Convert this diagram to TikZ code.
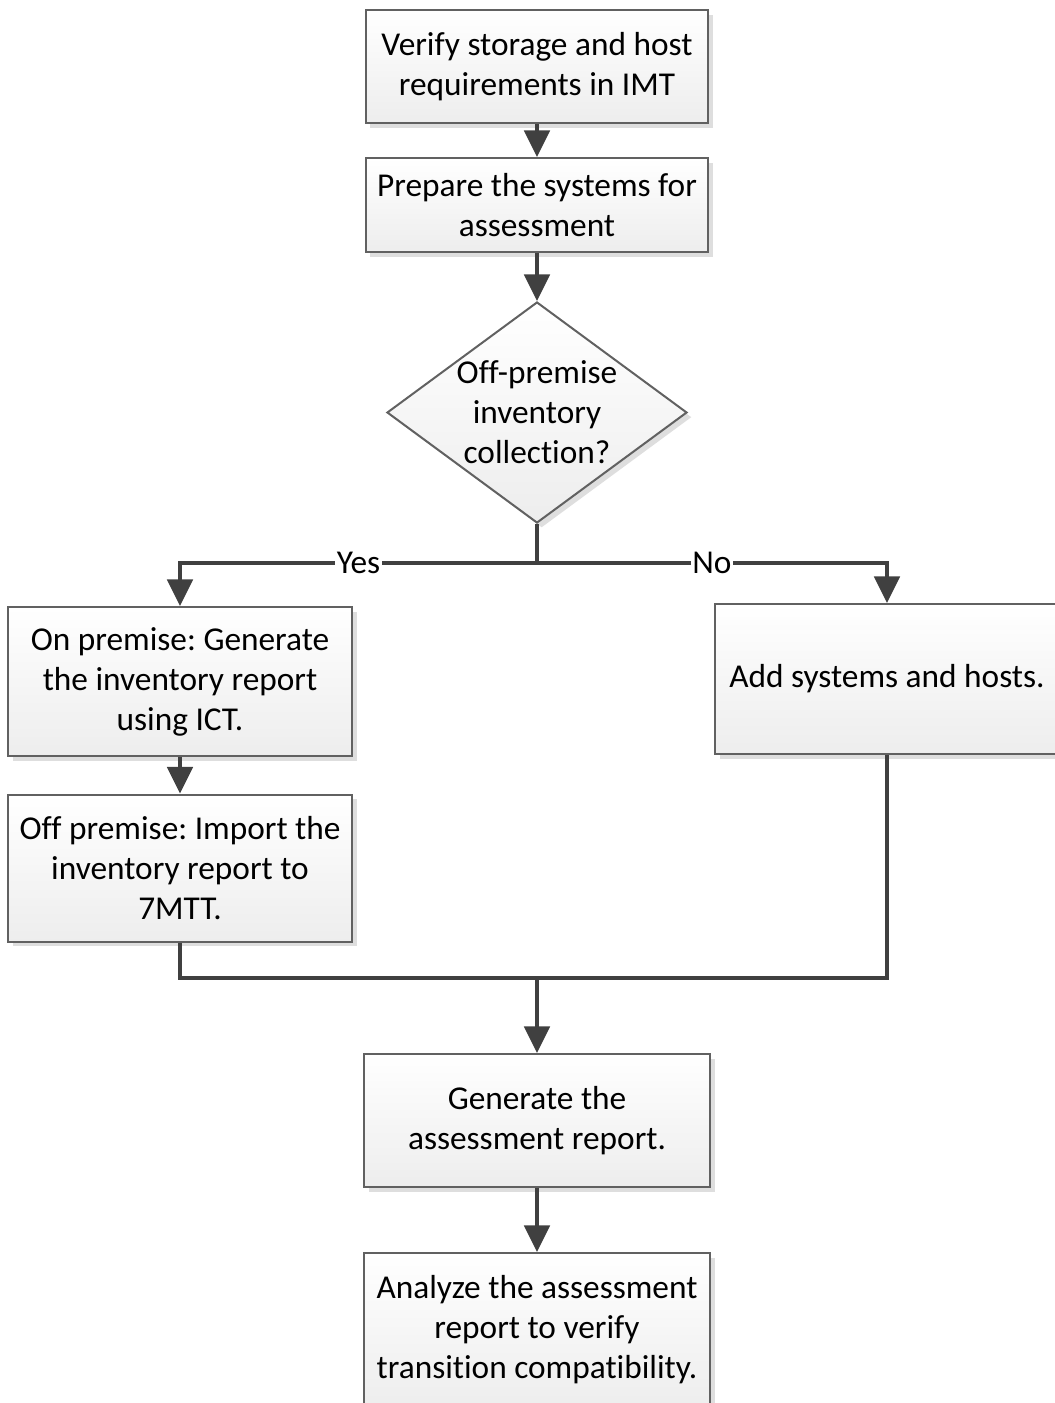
\documentclass[tikz,border=0pt]{standalone}
\usepackage{fontspec}
\setmainfont{Carlito}[Ligatures = {NoCommon}]
\frenchspacing
\usetikzlibrary{positioning}
\usetikzlibrary{arrows.meta}
\usetikzlibrary{shapes.geometric}
\usetikzlibrary{shadows}
\definecolor{mline}{rgb}{0.25, 0.25, 0.25}
\definecolor{mframe}{rgb}{0.38, 0.38, 0.38}
\newcommand{\boxfont}{\fontsize{25}{30}\selectfont}
\tikzset{stepbox/.style = {draw = mframe, line width = 1.5pt, top color = white,
    bottom color = black!7, align = center, inner sep = 0, font = \boxfont,
    minimum width = 257pt,
    drop shadow = {shadow xshift = 3.5pt, shadow yshift = -3.5pt, fill = black!13, opacity = 1}}}
\tikzset{decide/.style = {stepbox, diamond, minimum width = 225pt, minimum height = 165.75pt}}
\tikzset{flow/.style = {draw = mline, line width = 3pt, -{Triangle[length = 20pt, width = 19pt]}}}
\tikzset{link/.style = {draw = mline, line width = 3pt}}
\tikzset{lbl/.style = {fill = white, inner sep = 1pt, font = \boxfont}}

\begin{document}
\begin{tikzpicture}[x = 0.75pt, y = -0.75pt]
      \useasboundingbox (0, 0) rectangle (1054, 1403);
      % steps
      \node [stepbox, minimum height = 84.75pt] (verify) at (537, 66.5)
      {Verify storage and host\\requirements in IMT};
      \node [stepbox, minimum height = 70.5pt] (prepare) at (537, 205)
      {Prepare the systems for\\assessment};
      \node [decide] (choice) at (537, 412.5) {};
      \node [font = \boxfont, align = center] (choicetext) at (choice.center)
      {Off-premise\\inventory\\collection?};
      \node [stepbox, minimum width = 258pt, minimum height = 111.75pt] (onprem)
      at (180, 681.5) {On premise: Generate\\the inventory report\\using ICT.};
      \node [stepbox, minimum width = 258pt, minimum height = 110.25pt] (offprem)
      at (180, 868) {Off premise: Import the\\inventory report to\\7MTT.};
      \node [stepbox, minimum width = 258pt, minimum height = 112.5pt] (addsys)
      at (887, 679) {Add systems and hosts.};
      \node [stepbox, minimum width = 259.5pt, minimum height = 99.75pt] (generate)
      at (537, 1120.5) {Generate the\\assessment report.};
      \node [stepbox, minimum width = 259.5pt, minimum height = 115.5pt] (analyze)
      at (537, 1330) {Analyze the assessment\\report to verify\\transition compatibility.};
      \coordinate (split) at (537, 563);
      \coordinate (merge) at (537, 978);
      % connectors
      \draw [flow] (verify) -- (prepare);
      \draw [flow] (prepare) -- (choice);
      \draw [link] (choice.south) -- (split);
      \draw [flow] (split) -| node [lbl, pos = 0.25] {Yes} (onprem.north);
      \draw [flow] (split) -| node [lbl, pos = 0.25] {No} (addsys.north);
      \draw [flow] (onprem) -- (offprem);
      \draw [link] (offprem.south) |- (merge);
      \draw [link] (addsys.south) |- (merge);
      \draw [flow] (merge) -- (generate.north);
      \draw [flow] (generate) -- (analyze);
    \end{tikzpicture}
\end{document}
